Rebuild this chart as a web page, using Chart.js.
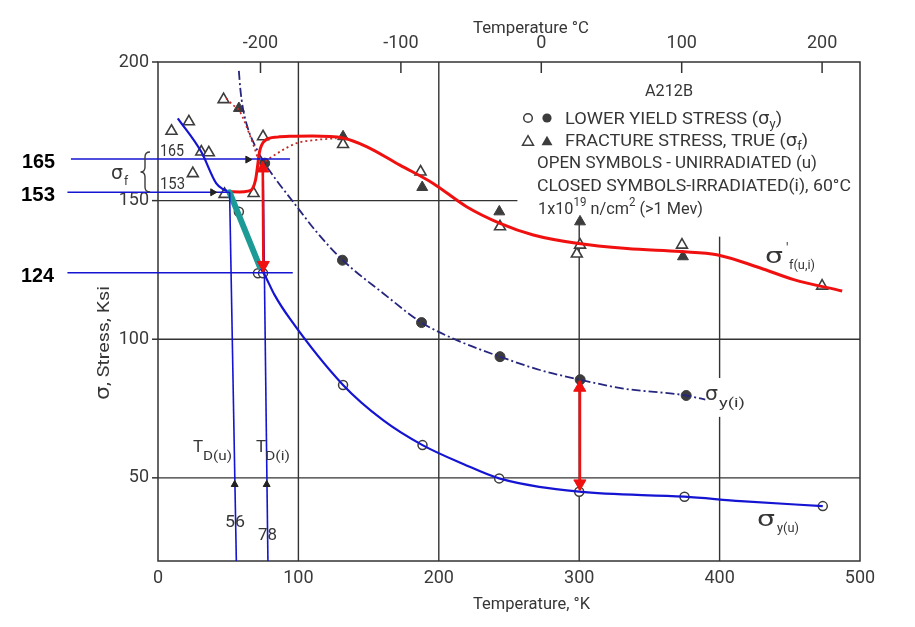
<!DOCTYPE html>
<html><head><meta charset="utf-8">
<script src="https://cdn.jsdelivr.net/npm/chart.js@4.4.0/dist/chart.umd.min.js"></script>
<style>html,body{margin:0;padding:0;background:#fff;}#wrap{width:915px;height:627px;}</style>
</head><body><div id="wrap"><canvas id="c" width="915" height="627"></canvas></div>
<script>
// ---------------- data ----------------
const kelvinTicks = [0, 100, 200, 300, 400, 500];
const celsiusTicks = [-200, -100, 0, 100, 200];
const stressTicks = [50, 100, 150, 200];

// lower yield stress, open = unirradiated, closed = irradiated
const yieldUnirrT = [57.6, 71.2, 74.8, 131.8, 188.4, 243, 300, 375, 473.5];
const yieldUnirrS = [146, 123.8, 123.8, 83.5, 61.8, 49.8, 45, 43.2, 39.8];
const yieldIrrT = [76, 131.4, 187.7, 243.6, 300.7, 376.2];
const yieldIrrS = [163.5, 128.5, 106, 93.7, 85.4, 79.7];
// true fracture stress
const fracUnirrT = [9.6, 22, 46.7, 30.8, 36.2, 24.8, 47.4, 68.1, 74.8, 131.8, 187, 243.6, 298.3, 300.6, 373.2, 473];
const fracUnirrS = [175.1, 178.5, 186.5, 167.6, 167.3, 159.8, 152.3, 152.6, 173.1, 170.3, 160.4, 140.6, 130.8, 134, 134, 119.2];
const fracIrrT = [57.6, 131.8, 188.2, 243.1, 300.6, 373.9];
const fracIrrS = [183.3, 173.1, 154.8, 146, 142.4, 129.8];

// curves
const yuUpperT = [14.1, 30.8, 41.5, 46.5, 51];
const yuUpperS = [179.7, 167.6, 156.2, 154.1, 153.2];
const yuLowerT = [51, 72.4, 76, 83, 93.8, 131.8, 160.3, 188.4, 217.4, 243, 300, 375, 415, 473.5];
const yuLowerS = [153.2, 126.3, 123.2, 116, 107.5, 83.5, 70.8, 61.8, 55, 49.8, 45, 43.2, 41.6, 39.8];
const yiT = [57.6, 58.6, 60.5, 64, 68.8, 76, 84.3, 96.2, 112.8, 131.4, 160.3, 187.7, 212.7, 243.6, 272, 300.6, 331.5, 376.2, 389.8];
const yiS = [196.8, 190.5, 183.3, 176.1, 170.1, 163.5, 157.4, 149.6, 138.8, 128.6, 116.6, 106, 99.7, 93.7, 88.9, 85.4, 82.2, 79.7, 78.2];
const fracCurveT = [51, 58, 64, 67.5, 69.5, 70.8, 72.3, 76, 85, 95, 110, 131.8, 148.5, 172.3, 196, 219.8, 243.6, 267.3, 298.3, 334, 372, 398, 429, 452.8, 487.3];
const fracCurveS = [153.2, 153.1, 153.4, 154.5, 157.5, 162, 167.6, 171.6, 172.9, 173.2, 173.3, 172.6, 169.5, 162.8, 156.2, 147.8, 141.8, 137.6, 134.6, 132.7, 131.6, 130.5, 125.7, 121.5, 117.4];
const fracDotT = [48.6, 53.4, 57.6, 61.7, 65.3, 68.8, 71.2, 73.6, 79.5, 89, 98.6, 112.8, 127.1];
const fracDotS = [186.9, 184.5, 182.7, 178.5, 173.7, 168.9, 165.3, 163.5, 165.3, 168.3, 170.7, 171.9, 172.5];
const tealT = [51, 72.4];
const tealS = [153, 126.3];

// annotation lines
const levelS = [165, 153, 124];
const levelFromT = [-62, -64.5, -64.5];
const levelToT = [94, 51, 96];
const ductTopT = [51, 74.8];
const ductTopS = [153, 164];
const ductBotT = [55.8, 78.3];
const ductBotS = [20, 20];
const shiftT = [74.6, 300.4];
const shiftTopS = [164, 85];
const shiftBotS = [124.3, 45.5];
const redHeadT = [74.6, 75.0, 300.4, 300.5];
const redHeadS = [161.6, 126.8, 82.5, 48];
const redHeadRot = [0, 180, 0, 180];
const blackHeadT = [64, 39, 54.6, 77.4];
const blackHeadS = [164.8, 153, 47.6, 47.6];
const blackHeadRot = [90, 90, 0, 0];

// grid segments
const vGridT = [100, 200, 300, 400, 400];
const vGridFrom = [20, 20, 20, 20, 86];
const vGridTo = [200, 200, 143, 72, 137];
const hGridS = [150, 100, 50];
const hGridFrom = [0, 0, 0];
const hGridTo = [256, 500, 500];

// ---------------- build ----------------
const pts = (xs, ys) => xs.map((x, i) => ({x: x, y: ys[i]}));
const INK = '#3c3c3c';
const BLUE = '#1414d2';
const RED = '#f01010';

function lineDs(data, color, width, order, extra) {
  return Object.assign({data: data, showLine: true, pointRadius: 0, borderColor: color,
    borderWidth: width, fill: false, order: order, tension: 0}, extra || {});
}

const datasets = [];
datasets.push({data: pts(redHeadT, redHeadS), pointStyle: 'triangle', pointRadius: 7,
  pointRotation: redHeadRot, backgroundColor: RED, borderColor: RED, borderWidth: 1, order: 0, clip: false});
datasets.push({data: pts(blackHeadT, blackHeadS), pointStyle: 'triangle', pointRadius: 4,
  pointRotation: blackHeadRot, backgroundColor: '#222', borderColor: '#222', borderWidth: 1, order: 0, clip: false});
shiftT.forEach((t, i) => datasets.push(lineDs([{x: t, y: shiftTopS[i]}, {x: t + (i === 0 ? 0.5 : 0.1), y: shiftBotS[i]}], RED, 2.6, 1)));
levelS.forEach((s, i) => datasets.push(lineDs([{x: levelFromT[i], y: s}, {x: levelToT[i], y: s}], BLUE, 1.6, 1, {clip: false})));
ductTopT.forEach((t, i) => datasets.push(lineDs([{x: t, y: ductTopS[i]}, {x: ductBotT[i], y: ductBotS[i]}], BLUE, 1.6, 1)));
datasets.push(lineDs(pts(tealT, tealS), '#1c9b96', 6, 2, {borderCapStyle: 'round'}));
const smooth = {cubicInterpolationMode: 'monotone'};
datasets.push(lineDs(pts(fracCurveT, fracCurveS), RED, 3, 3, smooth));
datasets.push(lineDs(pts(yuUpperT, yuUpperS), BLUE, 2.2, 3, smooth));
datasets.push(lineDs(pts(yuLowerT, yuLowerS), BLUE, 2.2, 3, smooth));
datasets.push(lineDs(pts(fracDotT, fracDotS), '#c22a2a', 1.8, 4, Object.assign({borderDash: [2, 3]}, smooth)));
datasets.push(lineDs(pts(yiT, yiS), '#26267e', 1.8, 4, Object.assign({borderDash: [9, 3, 2, 3]}, smooth)));
datasets.push({data: pts(yieldUnirrT, yieldUnirrS), pointStyle: 'circle', pointRadius: 4.5,
  backgroundColor: '#fff', borderColor: INK, borderWidth: 1.5, order: 6});
datasets.push({data: pts(yieldIrrT, yieldIrrS), pointStyle: 'circle', pointRadius: 5,
  backgroundColor: INK, borderColor: INK, borderWidth: 1, order: 6});
datasets.push({data: pts(fracUnirrT, fracUnirrS), pointStyle: 'triangle', pointRadius: 6.3,
  backgroundColor: '#fff', borderColor: INK, borderWidth: 1.6, order: 6});
datasets.push({data: pts(fracIrrT, fracIrrS), pointStyle: 'triangle', pointRadius: 6.3,
  backgroundColor: INK, borderColor: INK, borderWidth: 1, order: 6});
vGridT.forEach((t, i) => datasets.push(lineDs([{x: t, y: vGridFrom[i]}, {x: t, y: vGridTo[i]}], '#333', 1.4, 9)));
hGridS.forEach((s, i) => datasets.push(lineDs([{x: hGridFrom[i], y: s}, {x: hGridTo[i], y: s}], '#333', 1.4, 9)));

// ---------------- text helpers ----------------
const FAM = 'Roboto';
const SIG = 'DejaVu Sans';
function rich(ctx, segs, x, y, w, color, fam) {
  fam = fam || FAM;
  const f = s => (s[3] || 400) + ' ' + s[1] + 'px "' + (s[4] || fam) + '"';
  let total = 0;
  const ws = segs.map(s => { ctx.font = f(s); const m = ctx.measureText(s[0]).width; total += m; return m; });
  const k = w ? w / total : 1;
  ctx.save();
  ctx.translate(x, y); ctx.scale(k, 1);
  ctx.fillStyle = color || '#363636'; ctx.textAlign = 'left'; ctx.textBaseline = 'alphabetic';
  let cx = 0;
  segs.forEach((s, i) => { ctx.font = f(s); ctx.fillText(s[0], cx, s[2] || 0); cx += ws[i]; });
  ctx.restore();
}

const framePlugin = {
  id: 'frame',
  beforeDatasetsDraw(chart) {
    const ctx = chart.ctx, a = chart.chartArea, sc = chart.scales;
    ctx.save();
    ctx.strokeStyle = '#333'; ctx.lineWidth = 1.5;
    ctx.strokeRect(a.left, a.top, a.right - a.left, a.bottom - a.top);
    celsiusTicks.forEach(c => { const px = sc.x2.getPixelForValue(c); ctx.beginPath(); ctx.moveTo(px, a.top); ctx.lineTo(px, a.top + 11); ctx.stroke(); });
    stressTicks.forEach(v => { const py = sc.y.getPixelForValue(v); ctx.beginPath(); ctx.moveTo(a.left - 6, py); ctx.lineTo(a.left, py); ctx.stroke(); });
    ctx.restore();
  },
  afterDraw(chart) {
    const ctx = chart.ctx;
    rich(ctx, [['Temperature ', 17], ['°C', 17]], 473, 33, 116);
    rich(ctx, [['Temperature, ', 17], ['°K', 17]], 473, 609, 117);
    ctx.save();
    ctx.translate(103, 343); ctx.rotate(-Math.PI / 2);
    rich(ctx, [['σ', 19, 0, 400, SIG], [', Stress, Ksi', 17]], -57, 6, 114);
    ctx.restore();
    rich(ctx, [['A212B', 17]], 645, 96, 48);
    rich(ctx, [['LOWER YIELD STRESS (', 17], ['σ', 17, 0, 400, SIG], ['y', 12, 4], [')', 17]], 565, 124, 217);
    rich(ctx, [['FRACTURE STRESS, TRUE (', 17], ['σ', 17, 0, 400, SIG], ['f', 12, 4], [')', 17]], 565, 146, 243);
    rich(ctx, [['OPEN SYMBOLS - UNIRRADIATED (u)', 17]], 537, 168, 280);
    rich(ctx, [['CLOSED SYMBOLS-IRRADIATED(i), 60°C', 17]], 537, 191, 314);
    rich(ctx, [['1x10', 17], ['19', 12, -8], [' n/cm', 17], ['2', 12, -8], [' (>1 Mev)', 17]], 538, 214, 165);
    ctx.save();
    ctx.strokeStyle = INK; ctx.fillStyle = INK; ctx.lineWidth = 1.5;
    ctx.beginPath(); ctx.arc(528, 118, 4.3, 0, Math.PI * 2); ctx.stroke();
    ctx.beginPath(); ctx.arc(547, 118, 4.6, 0, Math.PI * 2); ctx.fill();
    const tri = (x, y, r, fl) => { ctx.beginPath(); ctx.moveTo(x, y - r); ctx.lineTo(x + r * 0.866, y + r / 2); ctx.lineTo(x - r * 0.866, y + r / 2); ctx.closePath(); fl ? ctx.fill() : ctx.stroke(); };
    tri(528, 142, 6.3, false); tri(547, 142, 6.3, true);
    ctx.lineWidth = 1.4;
    ctx.beginPath();
    ctx.moveTo(150, 152); ctx.quadraticCurveTo(145, 152, 145, 157); ctx.lineTo(145, 167);
    ctx.quadraticCurveTo(145, 172, 140.5, 172); ctx.quadraticCurveTo(145, 172, 145, 177);
    ctx.lineTo(145, 187); ctx.quadraticCurveTo(145, 192, 150, 192); ctx.stroke();
    ctx.restore();
    // curve labels
    rich(ctx, [['σ', 22, 0, 400, SIG]], 765, 263, 18);
    rich(ctx, [["'", 14]], 786, 253);
    rich(ctx, [['f(u,i)', 13]], 789, 269, 26);
    rich(ctx, [['σ', 20, 0, 400, SIG]], 705, 400, 13);
    rich(ctx, [['y(i)', 13]], 719, 407, 26);
    rich(ctx, [['σ', 22, 0, 400, SIG]], 757, 526, 18);
    rich(ctx, [['y(u)', 13]], 777, 532, 22);
    rich(ctx, [['T', 17]], 193, 452);
    rich(ctx, [['D(u)', 13]], 203, 460, 29);
    rich(ctx, [['T', 17]], 256, 452);
    rich(ctx, [['D(i)', 13]], 265, 460, 25);
    rich(ctx, [['56', 16]], 225, 527, 20);
    rich(ctx, [['78', 16]], 258, 540, 19);
    rich(ctx, [['165', 16]], 160, 156, 24);
    rich(ctx, [['153', 16]], 160, 189, 25);
    rich(ctx, [['σ', 19, 0, 400, SIG]], 111, 179, 12);
    rich(ctx, [['f', 12]], 124, 185);
    rich(ctx, [['165', 19.5, 0, 700]], 22, 168, 33, '#000', 'Liberation Sans');
    rich(ctx, [['153', 19.5, 0, 700]], 21, 201, 34, '#000', 'Liberation Sans');
    rich(ctx, [['124', 19.5, 0, 700]], 21, 282, 33, '#000', 'Liberation Sans');
  }
};

Chart.defaults.font.family = FAM;
const tickFont = {family: FAM, size: 18};
new Chart(document.getElementById('c'), {
  type: 'scatter',
  data: {datasets: datasets},
  options: {
    responsive: false, animation: false, events: [],
    layout: {padding: {left: 0, right: 55, top: 0, bottom: 0}},
    plugins: {legend: {display: false}, tooltip: {enabled: false}},
    scales: {
      x: {type: 'linear', position: 'bottom', min: 0, max: 500,
        afterBuildTicks: s => { s.ticks = kelvinTicks.map(v => ({value: v})); },
        afterFit: s => { s.height = 66; },
        grid: {display: false, drawTicks: false}, border: {display: false},
        ticks: {color: '#3a3a3a', font: tickFont, padding: 7, maxRotation: 0, autoSkip: false}},
      x2: {type: 'linear', position: 'top', min: -273, max: 227,
        afterBuildTicks: s => { s.ticks = celsiusTicks.map(v => ({value: v})); },
        afterFit: s => { s.height = 62; },
        grid: {display: false, drawTicks: false}, border: {display: false},
        ticks: {color: '#3a3a3a', font: tickFont, padding: 8, maxRotation: 0, autoSkip: false}},
      y: {type: 'linear', min: 20, max: 200,
        afterBuildTicks: s => { s.ticks = stressTicks.map(v => ({value: v})); },
        afterFit: s => { s.width = 158; },
        grid: {display: false, drawTicks: false}, border: {display: false},
        ticks: {color: '#3a3a3a', font: tickFont, padding: 9, autoSkip: false}}
    }
  },
  plugins: [framePlugin]
});
</script></body></html>
